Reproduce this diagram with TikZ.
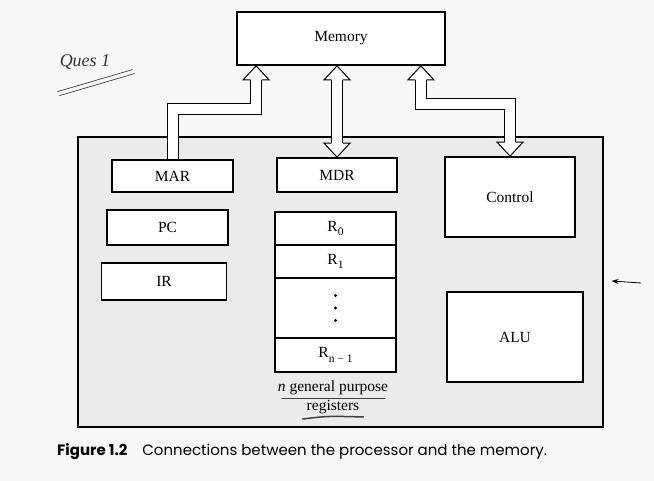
\documentclass[tikz,border=0pt]{standalone}
\usepackage{fontspec}
\setmainfont{Liberation Serif}
\newfontfamily\capfont{Poppins}
\usetikzlibrary{calc,arrows.meta}
\newcommand\boxfnt{\fontsize{15.5}{18}\selectfont}
\newcommand\subfnt{\fontsize{11.5}{13}\selectfont}
\tikzset{
  unitbox/.style={draw, line width=1.8pt, fill=white, inner sep=0pt, font=\boxfnt},
  proc/.style={draw, line width=1.2pt, fill=black!8, inner sep=0pt},
  hollow/.style={line width=1pt, double=white, double distance=10pt, line join=miter},
  headline/.style={line width=1pt, line join=miter},
  uphead/.pic={
    \fill[white] (0,0) -- (-13pt,-14pt) -- (13pt,-14pt) -- cycle;
    \draw[headline] (-5.5pt,-14pt) -- (-13pt,-14pt) -- (0,0) -- (13pt,-14pt) -- (5.5pt,-14pt);
  },
  downhead/.pic={
    \fill[white] (0,0) -- (-13pt,14pt) -- (13pt,14pt) -- cycle;
    \draw[headline] (-5.5pt,14pt) -- (-13pt,14pt) -- (0,0) -- (13pt,14pt) -- (5.5pt,14pt);
  },
  ink/.style={draw=black!75, line width=0.8pt, line cap=round},
  plain/.style={inner sep=0pt, font=\boxfnt}
}
\begin{document}
\begin{tikzpicture}[x=1pt,y=-1pt]
\useasboundingbox[fill=black!3] (0,0) rectangle (654,481);

% processor
\node[proc, minimum width=525pt, minimum height=290pt] (proc) at (340.5,282) {};

% memory
\node[unitbox, minimum width=208pt, minimum height=53pt] (mem) at (341,38.5) {Memory};

% left registers
\node[unitbox, minimum width=121pt, minimum height=32pt] (mar) at (172.5,176) {MAR};
\node[unitbox, minimum width=121pt, minimum height=35pt] (pc) at (167.5,227.5) {PC};
\node[unitbox, minimum width=125pt, minimum height=37pt] (ir) at (164,281.5) {IR};

% middle
\node[unitbox, minimum width=120pt, minimum height=34pt] (mdr) at (337,175) {MDR};
\node[unitbox, minimum width=121pt, minimum height=33pt] (r0) at (335.5,228.5) {R\raisebox{-0.5ex}{\subfnt 0}};
\node[unitbox, minimum width=121pt, minimum height=33pt] (r1) at (335.5,261.5) {R\raisebox{-0.5ex}{\subfnt 1}};
\node[unitbox, minimum width=121pt, minimum height=60pt] (rdots) at (335.5,308) {};
\node[unitbox, minimum width=121pt, minimum height=34pt] (rn) at (335.5,355) {R\raisebox{-0.6ex}{\subfnt n − 1}};
\fill (rdots.center) ++(0,-12.5) circle (1.7pt);
\fill (rdots.center) circle (1.7pt);
\fill (rdots.center) ++(0,12.5) circle (1.7pt);

\node[plain] (lbl1) at (333,388) {\textit{n} general purpose};
\node[plain] (lbl2) at (333,407) {registers};
\draw[ink] ($(lbl1.south west)+(4,3)$) -- ($(lbl1.south east)+(-3,3)$);
\draw[ink, line width=1.5pt] ($(lbl2.south west)+(-4,5)$) .. controls ($(lbl2.south)+(-5,2)$) .. ($(lbl2.south east)+(4,3)$);

% right
\node[unitbox, minimum width=130pt, minimum height=80pt] (ctl) at (510,197) {Control};
\node[unitbox, minimum width=136pt, minimum height=90pt] (alu) at (515,337) {ALU};

% hollow connectors
\draw[hollow] (mar.north) |- ($(mem.south west)+(20,43)$) -- ($(mem.south west)+(20,14)$);
\pic at ($(mem.south west)+(20,0)$) {uphead};

\draw[hollow] ($(mdr.north)+(0,-14)$) -- ($(mdr.north |- mem.south)+(0,14)$);
\pic at (mdr.north) {downhead};
\pic at (mdr.north |- mem.south) {uphead};

\draw[hollow] ($(mem.south east)+(-25,14)$) -- ($(mem.south east)+(-25,38)$) -| ($(ctl.north)+(0,-14)$);
\pic at ($(mem.south east)+(-25,0)$) {uphead};
\pic at (ctl.north) {downhead};

% pointer on right
\coordinate (ptr) at (641,283);
\draw[line width=0.8pt, -{Stealth[length=7pt,width=5pt]}] (ptr) -- ($(proc.east |- ptr)+(8,-2)$);

% handwritten note
\node[font=\itshape\fontsize{18}{20}\selectfont, text=black!80, inner sep=0pt] (note) at (85,62) {Ques 1};
\draw[ink, line width=0.7pt] ($(note.south west)+(-2,22)$) -- ($(note.south east)+(22,0)$);
\draw[ink, line width=0.7pt] ($(note.south west)+(0,26)$) -- ($(note.south east)+(24,4)$);

% caption
\node[anchor=base west, inner sep=0pt, font=\capfont\fontsize{15}{18}\selectfont] (cap) at (57,455)
  {\textbf{Figure 1.2}\hspace{1em}Connections between the processor and the memory.};
\end{tikzpicture}
\end{document}
